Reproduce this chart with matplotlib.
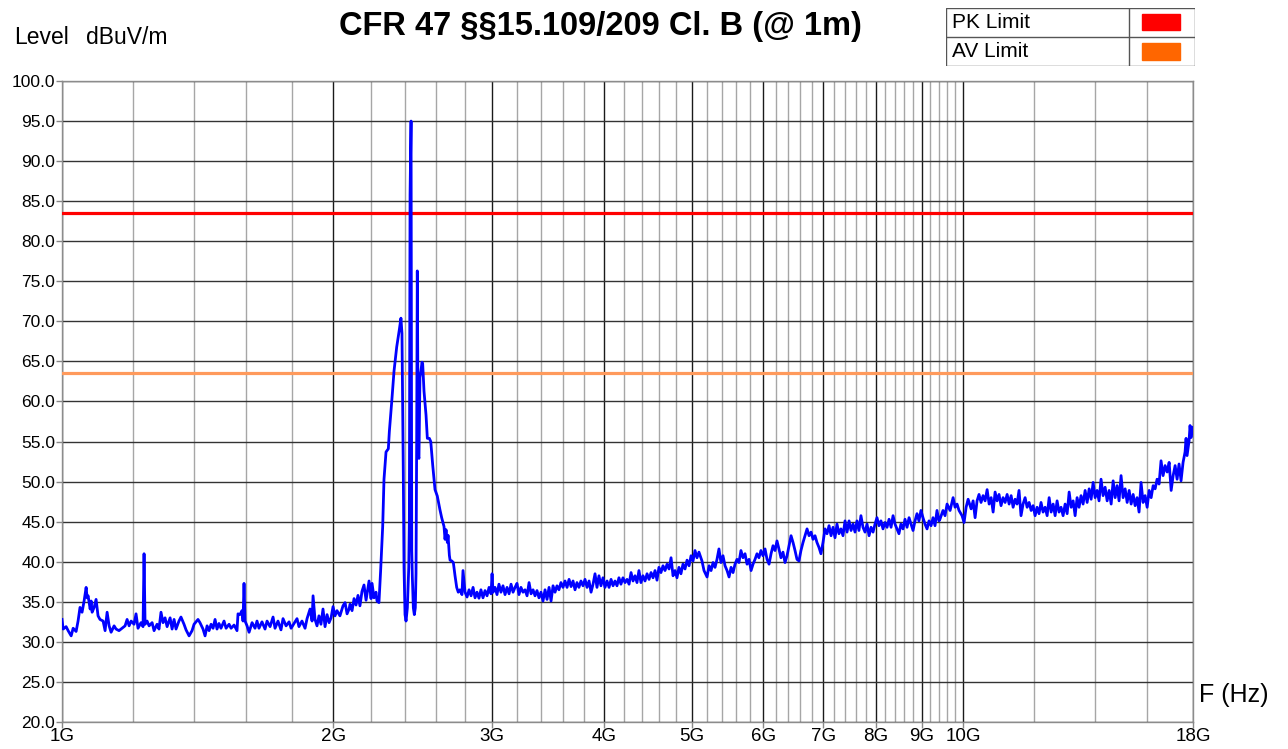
import matplotlib
matplotlib.use("Agg")
import matplotlib.pyplot as plt
from matplotlib.patches import Rectangle
from matplotlib.ticker import FixedLocator, NullFormatter

plt.rcParams["font.family"] = ["Liberation Sans", "DejaVu Sans"]

# limits (dBuV/m @ 1m)
PK_LIMIT = 83.5
AV_LIMIT = 63.5

# x ticks (GHz)
major_ticks = [1, 2, 3, 4, 5, 6, 7, 8, 9, 10, 18]
major_labels = ["1G", "2G", "3G", "4G", "5G", "6G", "7G", "8G", "9G", "10G", "18G"]
y_ticks = [20, 25, 30, 35, 40, 45, 50, 55, 60, 65, 70, 75, 80, 85, 90, 95, 100]

freq_1g = [1.000, 1.003, 1.0106, 1.0158, 1.0237, 1.0289, 1.0367, 1.0419, 1.0471, 1.0526,
           1.0581, 1.0636, 1.0663, 1.0690, 1.0746, 1.0773, 1.0800, 1.0855, 1.0910, 1.0965,
           1.1020, 1.1107, 1.1164, 1.1222, 1.1280, 1.1337, 1.1424, 1.1482, 1.1568, 1.1658,
           1.1749, 1.1810, 1.1871, 1.1932, 1.2022, 1.2083, 1.2144, 1.2237, 1.2301, 1.2333,
           1.2365, 1.2429, 1.2493, 1.2589, 1.2653, 1.2749, 1.2813, 1.2879, 1.2946, 1.3013,
           1.3081, 1.3182, 1.3249, 1.3316, 1.3383, 1.3484, 1.3553, 1.3659, 1.3730, 1.3837,
           1.3943, 1.4014, 1.4156]
level_1g = [32.8, 31.6, 31.9, 31.4, 30.75, 31.7, 31.3, 32.6, 34.3, 33.7,
            35.1, 36.8, 35.5, 35.75, 34.1, 35.1, 33.7, 34.3, 35.3, 33.25,
            32.8, 32.6, 31.4, 33.7, 32.0, 31.2, 32.0, 31.6, 31.4, 31.7,
            32.0, 32.8, 32.0, 32.6, 32.2, 33.5, 31.7, 32.4, 31.9, 41.0,
            32.2, 32.6, 32.0, 32.4, 31.4, 32.2, 31.6, 33.7, 32.4, 33.0,
            31.9, 33.0, 31.6, 32.8, 31.6, 32.6, 33.1, 32.2, 31.5, 30.75,
            31.4, 32.2, 32.8]

freq_1g4 = [1.4227, 1.4339, 1.4414, 1.4488, 1.4563, 1.4637, 1.4712, 1.4787, 1.4861, 1.4936,
            1.5012, 1.5130, 1.5209, 1.5326, 1.5405, 1.5523, 1.5640, 1.5680, 1.5758, 1.5841,
            1.5882, 1.5923, 1.5965, 1.6047, 1.6130, 1.6254, 1.6377, 1.6460, 1.6543, 1.6671,
            1.6801, 1.6888, 1.7019, 1.7149, 1.7236, 1.7367, 1.7500, 1.7592, 1.7729, 1.7866,
            1.7958, 1.8095, 1.8232, 1.8323, 1.8465, 1.8610, 1.8706, 1.8850, 1.8947, 1.8995,
            1.9091, 1.9188, 1.9284, 1.9383, 1.9484, 1.9586, 1.9687, 1.9789, 1.9890, 1.9991,
            2.0092, 2.0194, 2.0346, 2.0506, 2.0613, 2.0720, 2.0826]
level_1g4 = [32.4, 31.6, 30.75, 32.0, 31.4, 32.2, 31.7, 32.8, 31.6, 32.3,
             31.7, 32.6, 31.7, 32.2, 31.7, 32.1, 31.4, 33.5, 33.4, 33.9,
             32.6, 37.3, 32.6, 32.0, 31.2, 32.4, 31.7, 32.6, 31.7, 32.5,
             31.6, 32.6, 31.9, 33.1, 31.7, 32.6, 31.5, 32.9, 32.0, 32.5,
             31.7, 32.3, 32.9, 31.9, 32.6, 31.7, 32.9, 34.1, 32.6, 35.75,
             32.8, 32.0, 33.25, 32.2, 34.1, 31.9, 33.4, 32.4, 33.0, 34.4,
             33.25, 33.9, 33.25, 34.5, 34.9, 33.5, 34.1]

freq_2g4 = [2.0880, 2.0986, 2.1093, 2.1200, 2.1306, 2.1413, 2.1525, 2.1637, 2.1750, 2.1806,
            2.1918, 2.2030, 2.2086, 2.2198, 2.2311, 2.2367, 2.2479, 2.2576, 2.2695, 2.2771,
            2.2889, 2.3025, 2.3084, 2.3226, 2.3362, 2.3522, 2.3676, 2.3779, 2.3841, 2.3885,
            2.3922, 2.3966, 2.4028, 2.4090, 2.4171, 2.4258, 2.4295, 2.4339, 2.4401, 2.4444,
            2.4482, 2.4544, 2.4606, 2.4668, 2.4712, 2.4755, 2.4793, 2.4855, 2.4899, 2.4961,
            2.5026, 2.5092, 2.5137, 2.5222, 2.5353, 2.5438, 2.5569, 2.5661, 2.5792, 2.5942,
            2.6093, 2.6270, 2.6387, 2.6545, 2.6614, 2.6683, 2.6773, 2.6821, 2.6911, 2.6959,
            2.7076, 2.7186, 2.7303, 2.7420, 2.7530, 2.7647]
level_2g4 = [34.7, 33.9, 35.4, 34.6, 35.8, 34.5, 36.3, 37.1, 35.2, 36.0,
             37.6, 35.4, 37.3, 35.5, 36.2, 35.1, 34.9, 38.9, 44.4, 50.3,
             53.7, 54.1, 56.25, 60.0, 63.8, 66.8, 68.9, 70.4, 68.5, 59.6,
             51.15, 39.3, 33.4, 32.6, 34.25, 39.3, 45.25, 85.8, 95.0, 41.4,
             38.05, 34.25, 33.4, 34.25, 38.5, 55.4, 76.3, 53.25, 52.9, 63.0,
             63.8, 64.9, 64.7, 61.3, 58.3, 55.4, 55.4, 55.0, 52.0, 49.0,
             48.2, 46.5, 45.5, 44.4, 42.8, 44.0, 42.4, 43.3, 40.8, 40.2,
             40.1, 39.9, 38.25, 36.8, 36.2, 36.5]

freq_3g = [2.7792, 2.7865, 2.8010, 2.8155, 2.8300, 2.8445, 2.8590, 2.8735, 2.8880, 2.9025,
           2.9173, 2.9326, 2.9479, 2.9631, 2.9784, 2.9936, 3.0013, 3.0089, 3.0242, 3.0394,
           3.0547, 3.0703, 3.0864, 3.1025, 3.1185, 3.1346, 3.1506, 3.1667, 3.1828, 3.1988,
           3.2149, 3.2314, 3.2483, 3.2652, 3.2821, 3.2990, 3.3159, 3.3328, 3.3497, 3.3666,
           3.3835, 3.4008, 3.4186, 3.4364, 3.4541, 3.4719, 3.4897, 3.5075, 3.5253, 3.5430,
           3.5608, 3.5791, 3.5978, 3.6165, 3.6352, 3.6540, 3.6727, 3.6914, 3.7101, 3.7288,
           3.7475, 3.7668, 3.7865, 3.8062, 3.8259, 3.8456, 3.8653, 3.8850, 3.9047, 3.9244,
           3.9441, 3.9643, 3.9850, 4.0057, 4.0265, 4.0472, 4.0680, 4.0887, 4.1094, 4.1302,
           4.1509, 4.1722, 4.1940, 4.2159, 4.2377, 4.2595, 4.2813, 4.3031, 4.3250, 4.3468,
           4.3686, 4.3910, 4.4140, 4.4369, 4.4599, 4.4829, 4.5059, 4.5288, 4.5518, 4.5748,
           4.5977, 4.6213, 4.6455, 4.6696, 4.6938, 4.7180, 4.7421, 4.7663, 4.7905, 4.8146,
           4.8388, 4.8636, 4.8890, 4.9145, 4.9399, 4.9654, 4.9908, 5.0163, 5.0417, 5.0672,
           5.0926]
level_3g = [35.9, 38.9, 36.2, 35.6, 36.5, 35.75, 36.8, 35.5, 36.2, 35.45,
            36.5, 35.5, 36.4, 35.75, 36.8, 36.0, 38.5, 36.2, 36.8, 35.9,
            37.2, 36.2, 37.0, 35.9, 36.8, 36.0, 37.2, 36.2, 36.8, 37.3,
            35.9, 36.8, 36.2, 36.5, 35.75, 37.4, 36.0, 36.5, 35.75, 36.4,
            35.5, 36.2, 35.1, 36.5, 35.3, 36.8, 35.1, 37.0, 36.2, 37.0,
            36.5, 37.4, 36.8, 37.6, 36.8, 37.8, 36.9, 37.6, 36.5, 37.4,
            36.8, 37.6, 37.0, 37.8, 36.8, 37.6, 36.2, 37.2, 38.5, 36.8,
            38.25, 37.0, 38.0, 36.8, 37.6, 36.8, 37.8, 37.0, 37.6, 37.0,
            38.0, 37.2, 38.0, 37.4, 37.8, 37.2, 38.65, 37.6, 38.25, 37.4,
            38.9, 37.4, 38.25, 37.6, 38.5, 37.8, 38.65, 38.0, 38.9, 37.7,
            39.3, 38.65, 39.5, 38.9, 39.7, 39.1, 40.5, 38.25, 38.9, 38.0,
            39.3, 38.5, 39.7, 39.1, 40.2, 39.5, 40.75, 40.1, 41.4, 40.5,
            41.2]

freq_5g = [5.1321, 5.1589, 5.1991, 5.2258, 5.2526, 5.2794, 5.3062, 5.3329, 5.3597, 5.3871,
           5.4153, 5.4435, 5.4717, 5.4998, 5.5280, 5.5562, 5.5844, 5.6126, 5.6407, 5.6696,
           5.6993, 5.7289, 5.7586, 5.7882, 5.8179, 5.8475, 5.8772, 5.9068, 5.9365, 5.9669,
           5.9981, 6.0293, 6.0605, 6.0917, 6.1229, 6.1541, 6.1853, 6.2166, 6.2478, 6.2798,
           6.3127, 6.3455, 6.3784, 6.4112, 6.4441, 6.4769, 6.5098, 6.5426, 6.5755, 6.6092,
           6.6438, 6.6783, 6.7129, 6.7474, 6.7820, 6.8166, 6.8511, 6.8857, 6.9202, 6.9557,
           6.9921, 7.0285, 7.0648, 7.1012, 7.1376, 7.1740, 7.2104, 7.2467, 7.2831, 7.3204,
           7.3587, 7.3970, 7.4353, 7.4736, 7.5119, 7.5502, 7.5884, 7.6267, 7.6650, 7.7043,
           7.7446, 7.7849, 7.8252, 7.8655, 7.9058, 7.9461, 7.9864, 8.0267, 8.0670, 8.1084,
           8.1508, 8.1932, 8.2356, 8.2780, 8.3204, 8.3628, 8.4052, 8.4476, 8.4901, 8.5336,
           8.5782, 8.6229, 8.6675, 8.7121, 8.7568, 8.8014, 8.8460, 8.8907, 8.9353, 8.9811,
           9.0281, 9.0750, 9.1220, 9.1690, 9.2159, 9.2629, 9.3099, 9.3568, 9.4038]
level_5g = [40.1, 38.9, 38.1, 39.5, 38.9, 39.9, 39.3, 40.3, 41.6, 39.9,
            40.75, 39.5, 38.9, 38.1, 39.3, 38.65, 39.7, 40.3, 39.9, 41.4,
            40.5, 41.0, 39.7, 40.3, 38.9, 39.7, 40.3, 41.0, 40.5, 41.4,
            40.75, 41.6, 40.3, 39.7, 41.0, 42.0, 41.4, 42.6, 41.6, 40.5,
            41.2, 39.9, 40.75, 42.0, 43.25, 42.4, 41.4, 40.3, 40.1, 41.4,
            42.4, 43.25, 44.1, 43.25, 43.7, 42.8, 43.25, 42.4, 41.8, 41.0,
            42.4, 44.1, 43.5, 44.5, 43.25, 44.3, 43.0, 44.7, 43.5, 44.1,
            43.25, 45.1, 43.7, 45.1, 43.9, 44.7, 43.7, 45.1, 43.9, 45.75,
            44.3, 43.7, 44.7, 43.25, 44.3, 43.7, 44.7, 45.5, 44.5, 45.1,
            44.1, 44.9, 44.3, 45.3, 44.3, 45.75, 44.7, 44.1, 43.5, 44.7,
            44.1, 45.3, 44.3, 45.5, 44.7, 43.9, 45.1, 46.0, 45.1, 46.4,
            45.5, 44.7, 44.1, 45.1, 44.5, 45.5, 44.5, 46.4, 45.1]

freq_10g = [9.4273, 9.5017, 9.5514, 9.6010, 9.6754, 9.7499, 9.7995, 9.8492, 9.8988, 9.9756,
            10.0277, 10.0797, 10.1318, 10.2098, 10.2619, 10.3139, 10.3659, 10.4180, 10.4714, 10.5262,
            10.5810, 10.6358, 10.6906, 10.7454, 10.8002, 10.8550, 10.9098, 10.9646, 11.0208, 11.0784,
            11.1360, 11.1936, 11.2512, 11.3088, 11.3664, 11.4240, 11.4816, 11.5392, 11.5984, 11.6591,
            11.7198, 11.7805, 11.8412, 11.9019, 11.9626, 12.0233, 12.0840, 12.1447, 12.2070, 12.2709,
            12.3348, 12.3987, 12.4626, 12.5265, 12.5904, 12.6543, 12.7182, 12.7821, 12.8476, 12.9148,
            12.9820, 13.0492, 13.1164, 13.1836, 13.2508, 13.3180, 13.3852, 13.4524, 13.5214, 13.5921,
            13.6628, 13.7335, 13.8042, 13.8749, 13.9456, 14.0163, 14.0870, 14.1577, 14.2303, 14.3048,
            14.3793, 14.4538, 14.5283, 14.6028, 14.6773, 14.7518, 14.8263, 14.9008, 14.9772, 15.0555,
            15.1338, 15.2121, 15.2904, 15.3687, 15.4470, 15.5253, 15.6036, 15.6819, 15.7622, 15.8446,
            15.9270, 16.0094, 16.0918, 16.1742, 16.2566, 16.3390, 16.4214, 16.5038, 16.5884, 16.6752,
            16.7620, 16.8488, 16.9356, 17.0224, 17.1092, 17.1960, 17.2828, 17.3696, 17.4582, 17.5486,
            17.6390, 17.6842, 17.7294, 17.8198, 17.8650, 17.9102, 17.9554, 18.0]
level_10g = [45.3, 46.4, 45.75, 47.2, 46.4, 48.0, 46.8, 47.2, 46.4, 45.75,
             44.9, 46.8, 47.8, 46.6, 47.6, 45.5, 47.6, 48.4, 47.4, 48.25,
             47.6, 49.0, 47.2, 48.0, 46.2, 48.7, 47.6, 48.4, 47.0, 48.0,
             47.4, 48.4, 47.2, 48.25, 46.8, 47.8, 47.2, 48.9, 45.75, 47.2,
             48.0, 46.8, 47.4, 46.4, 47.0, 45.75, 46.8, 46.0, 47.4, 46.2,
             46.8, 45.75, 48.0, 46.2, 47.2, 45.75, 47.6, 46.2, 46.8, 45.75,
             47.2, 46.0, 48.7, 46.8, 47.6, 45.75, 48.0, 46.8, 48.25, 47.2,
             48.9, 47.4, 49.1, 47.8, 49.9, 48.0, 48.9, 47.6, 50.3, 48.25,
             49.3, 47.6, 48.9, 47.2, 50.1, 48.0, 49.5, 47.6, 50.75, 48.0,
             49.1, 47.4, 48.9, 47.2, 48.4, 47.0, 48.0, 46.2, 49.9, 47.4,
             48.25, 46.8, 48.9, 48.0, 49.5, 49.1, 50.3, 49.7, 52.6, 50.75,
             52.0, 51.2, 52.4, 48.9, 50.75, 52.0, 50.3, 52.2, 50.1, 52.4,
             53.7, 55.4, 53.25, 55.1, 57.0, 55.5, 56.8, 56.0]

freq = freq_1g + freq_1g4 + freq_2g4 + freq_3g + freq_5g + freq_10g
level = level_1g + level_1g4 + level_2g4 + level_3g + level_5g + level_10g

W, H = 1288, 749
fig = plt.figure(figsize=(W / 100, H / 100), dpi=100)
ax = fig.add_axes([62 / W, 1 - 722 / H, (1193 - 62) / W, (722 - 81) / H])

ax.set_xscale("log")
ax.set_xlim(1, 18)
ax.set_ylim(20, 100)

# grid: every 0.2G up to 10G, every 2G above
minor = [i / 5 for i in range(5, 50) if i % 5] + [12, 14, 16]
ax.xaxis.set_major_locator(FixedLocator(major_ticks))
ax.set_xticklabels(major_labels)
ax.xaxis.set_minor_locator(FixedLocator(minor))
ax.xaxis.set_minor_formatter(NullFormatter())
ax.set_yticks(y_ticks)
ax.set_yticklabels([f"{v:.1f}" for v in y_ticks])

ax.grid(which="major", axis="x", color="#1a1a1a", lw=1.0)
ax.grid(which="minor", axis="x", color="#a6a6a6", lw=1.0)
ax.grid(which="major", axis="y", color="#333333", lw=1.0)
ax.set_axisbelow(True)

ax.tick_params(axis="y", which="major", labelsize=12.5, color="#888888",
               length=4, width=1, pad=1)
ax.tick_params(axis="x", which="major", labelsize=13.5, color="#888888",
               length=4, width=1, pad=0)
ax.tick_params(axis="x", which="minor", length=0)
for s in ax.spines.values():
    s.set_color("#8c8c8c")
    s.set_linewidth(1)

ax.axhline(PK_LIMIT, color="#ff0000", lw=2.3, zorder=3)
ax.axhline(AV_LIMIT, color="#ff9a5c", lw=2.3, zorder=3)
ax.plot(freq, level, color="#0000ff", lw=2.0, zorder=4)

fig.text(0.466, 1 - 27 / H, "CFR 47 §§15.109/209 Cl. B (@ 1m)", ha="center",
         va="center", fontsize=23.5, fontweight="bold")
fig.text(14 / W, 1 - 37 / H, "Level", ha="left", va="center", fontsize=16.5)
fig.text(86 / W, 1 - 37 / H, "dBuV/m", ha="left", va="center", fontsize=16.5)
fig.text(1199 / W, 1 - 695 / H, "F (Hz)", ha="left", va="center", fontsize=18)

# legend table, top right
lax = fig.add_axes([946 / W, 1 - 66 / H, 249 / W, 58 / H])
lax.set_xlim(0, 249)
lax.set_ylim(58, 0)
lax.axis("off")
lax.add_patch(Rectangle((0, 0), 249, 58, fill=False, ec="#555555", lw=1))
lax.plot([0, 249], [29, 29], color="#555555", lw=1)
lax.plot([183, 183], [0, 58], color="#555555", lw=1)
lax.text(6, 14.5, "PK Limit", ha="left", va="center", fontsize=15)
lax.text(6, 43.5, "AV Limit", ha="left", va="center", fontsize=15)
lax.add_patch(Rectangle((196, 6), 38, 16, color="#ff0000"))
lax.add_patch(Rectangle((196, 35), 38, 17, color="#ff6600"))

fig.savefig("out.png", dpi=100)
